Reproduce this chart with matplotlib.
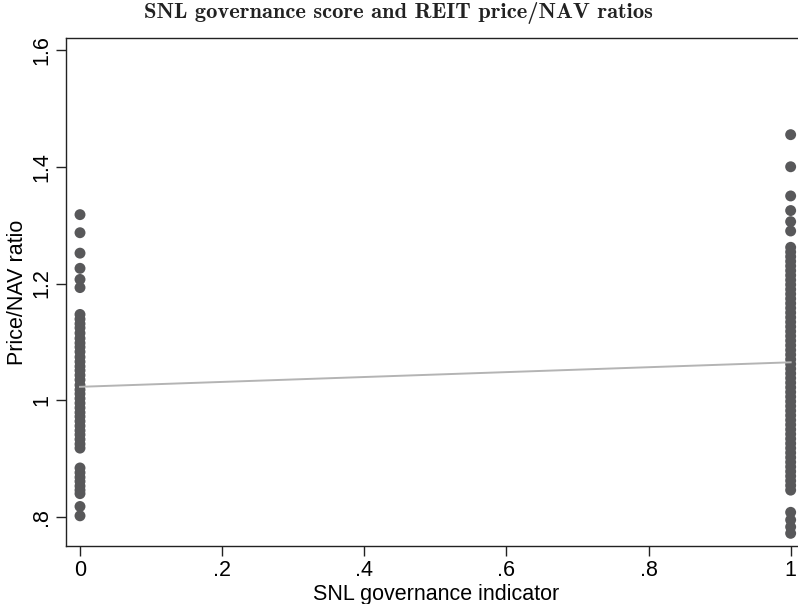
import matplotlib
matplotlib.use("Agg")
import matplotlib.pyplot as plt

# Price/NAV ratios for REITs without (0) and with (1) the SNL governance flag
ratio_no_flag = [
    1.318, 1.287, 1.252, 1.226, 1.207, 1.193,
    1.147, 1.139, 1.131, 1.124, 1.115, 1.106, 1.098, 1.091, 1.083, 1.074,
    1.066, 1.058, 1.051, 1.043, 1.035, 1.026, 1.018, 1.011, 1.003, 0.995,
    0.987, 0.979, 0.972, 0.964, 0.956, 0.948, 0.941, 0.933, 0.925, 0.918,
    0.884, 0.876, 0.868, 0.861, 0.853, 0.846, 0.840,
    0.818, 0.802,
]
ratio_flag = [
    1.455, 1.400, 1.350, 1.325, 1.306, 1.290,
    1.262, 1.254, 1.246, 1.238, 1.230, 1.222, 1.214, 1.206, 1.198, 1.190,
    1.182, 1.174, 1.166, 1.158, 1.150, 1.142, 1.134, 1.126, 1.118, 1.110,
    1.102, 1.094, 1.086, 1.078, 1.070, 1.062, 1.054, 1.046, 1.038, 1.030,
    1.022, 1.014, 1.006, 0.998, 0.990, 0.982, 0.974, 0.966, 0.958, 0.950,
    0.942, 0.934, 0.926, 0.918, 0.910, 0.902, 0.894, 0.886, 0.878, 0.870,
    0.862, 0.854, 0.846,
    0.808, 0.795, 0.783, 0.772,
]

# Linear fit of price/NAV on the indicator
fit_x = [0.0, 1.0]
fit_y = [1.023, 1.065]

x_ticks = [0, 0.2, 0.4, 0.6, 0.8, 1.0]
x_tick_labels = ["0", ".2", ".4", ".6", ".8", "1"]
y_ticks = [0.8, 1.0, 1.2, 1.4, 1.6]
y_tick_labels = [".8", "1", "1.2", "1.4", "1.6"]

W, H = 798, 604
fig = plt.figure(figsize=(W / 100, H / 100), dpi=100)
left, right, top, bottom = 66, 806, 38, 546
ax = fig.add_axes([left / W, 1 - bottom / H, (right - left) / W, (bottom - top) / H])

dot_color = "#58585a"
ax.scatter([0] * len(ratio_no_flag), ratio_no_flag, s=62, color=dot_color,
           edgecolors="none", zorder=2, clip_on=False)
ax.scatter([1] * len(ratio_flag), ratio_flag, s=62, color=dot_color,
           edgecolors="none", zorder=2, clip_on=False)
ax.plot(fit_x, fit_y, color="#b4b4b4", lw=1.4, zorder=3)

ax.set_xlim(-0.0197, 1.0216)
ax.set_ylim(0.7503, 1.6206)

font = ["Liberation Sans", "DejaVu Sans"]
fs = 15.5
ax.set_xticks(x_ticks)
ax.set_xticklabels(x_tick_labels, fontsize=fs, family=font)
ax.set_yticks(y_ticks)
ax.set_yticklabels(y_tick_labels, fontsize=fs, family=font, rotation=90, va="center")
ax.tick_params(direction="out", length=7, width=1.0, color="#222222", pad=3)

ax.set_xlabel("SNL governance indicator", fontsize=fs, family=font, labelpad=2)
ax.set_ylabel("Price/NAV ratio", fontsize=fs, family=font, labelpad=2)

for side in ax.spines.values():
    side.set_linewidth(1.0)
    side.set_color("#222222")

fig.text(398 / W, 1 - 13 / H, "SNL governance score and REIT price/NAV ratios",
         ha="center", va="center", fontsize=16.2, family=["cmb10", "DejaVu Serif"],
         color="#222222")

fig.savefig("out.png", dpi=100)
